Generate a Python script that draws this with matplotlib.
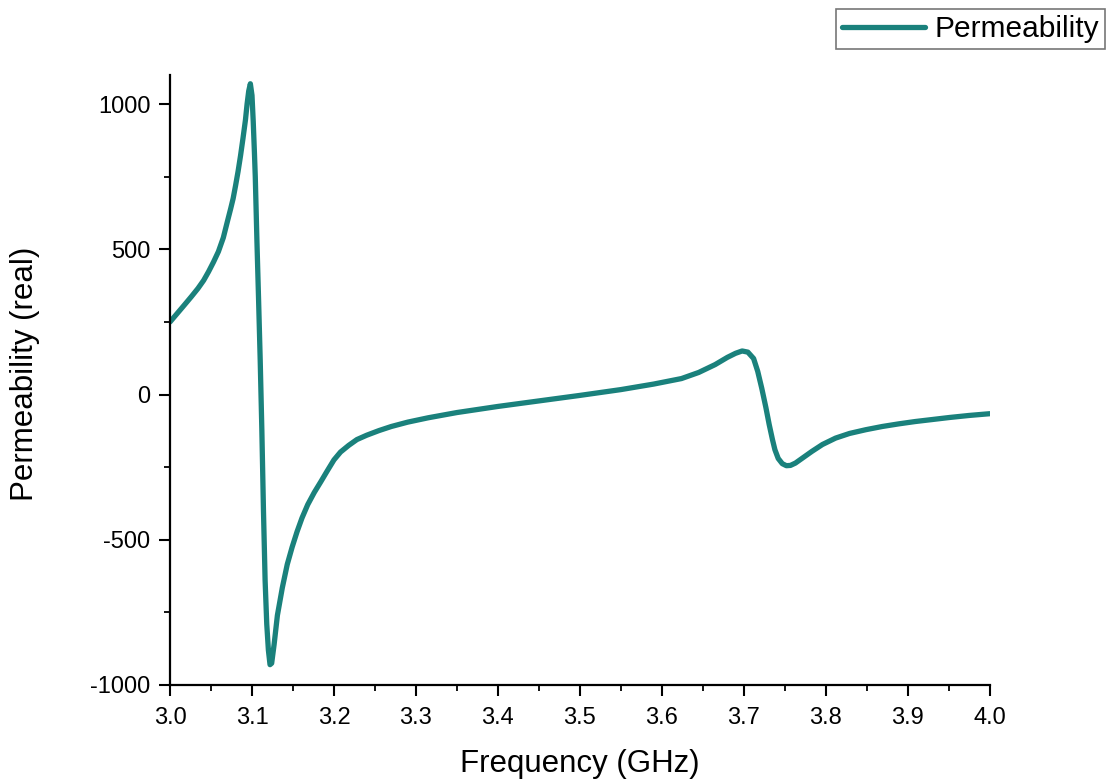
import matplotlib
matplotlib.use("Agg")
import matplotlib.pyplot as plt
from matplotlib.ticker import MultipleLocator

plt.rcParams['font.family'] = ['Liberation Sans', 'DejaVu Sans']
plt.rcParams['axes.unicode_minus'] = False

# frequency (GHz) and real part of permeability
freq = [3.000, 3.009, 3.018, 3.026, 3.034, 3.041, 3.047, 3.053, 3.059, 3.065,
        3.070, 3.074, 3.077, 3.080, 3.083, 3.086, 3.089, 3.092, 3.094, 3.096,
        3.098, 3.100, 3.1015, 3.103, 3.104, 3.106, 3.108, 3.110, 3.112, 3.114,
        3.116, 3.118, 3.120, 3.122, 3.124, 3.127, 3.131, 3.137, 3.143, 3.149,
        3.155, 3.161, 3.168, 3.176, 3.184, 3.192, 3.200, 3.208, 3.218, 3.228,
        3.240, 3.255, 3.270, 3.290, 3.315, 3.350, 3.400, 3.450, 3.500, 3.550,
        3.590, 3.624, 3.645, 3.665, 3.680, 3.690, 3.698, 3.705, 3.712, 3.717,
        3.722, 3.727, 3.731, 3.735, 3.738, 3.742, 3.747, 3.752, 3.757, 3.763,
        3.771, 3.783, 3.796, 3.812, 3.829, 3.849, 3.869, 3.889, 3.909, 3.930,
        3.951, 3.975, 4.000]
perm = [250, 280, 310, 337, 365, 393, 423, 456, 492, 540,
        596, 640, 675, 720, 768, 822, 882, 945, 1000, 1045,
        1070, 1030, 940, 830, 750, 530, 330, 120, -120, -400,
        -640, -790, -880, -930, -925, -860, -760, -665, -585, -525,
        -472, -425, -379, -337, -300, -262, -225, -198, -175, -155,
        -140, -124, -110, -95, -80, -62, -41, -22, -3, 17,
        36, 55, 76, 103, 128, 142, 150, 146, 124, 80,
        21, -45, -103, -155, -190, -220, -238, -245, -244, -236,
        -220, -196, -172, -150, -134, -121, -110, -101, -93, -86,
        -79, -72, -66]

fig = plt.figure(figsize=(11.07, 7.8), dpi=100)
ax = fig.add_axes([0.1536, 0.1218, 0.7404, 0.782])

ax.plot(freq, perm, color='#1a817c', linewidth=3.8, label='Permeability',
        solid_capstyle='round', solid_joinstyle='round')

ax.set_xlim(3.0, 4.0)
ax.set_ylim(-1000, 1100)
ax.xaxis.set_major_locator(MultipleLocator(0.1))
ax.xaxis.set_minor_locator(MultipleLocator(0.05))
ax.yaxis.set_major_locator(MultipleLocator(500))
ax.yaxis.set_minor_locator(MultipleLocator(250))
ax.xaxis.set_major_formatter(plt.FormatStrFormatter('%.1f'))

for s in ['top', 'right']:
    ax.spines[s].set_visible(False)
for s in ['left', 'bottom']:
    ax.spines[s].set_linewidth(1.6)

ax.tick_params(which='major', direction='out', length=8, width=1.5,
               labelsize=17, pad=6)
ax.tick_params(axis='x', which='major', pad=8)
ax.tick_params(which='minor', direction='out', length=4.5, width=1.3)

ax.set_xlabel('Frequency (GHz)', fontsize=22.5)
ax.set_ylabel('Permeability (real)', fontsize=22.5)
ax.xaxis.set_label_coords(0.5, -0.105)
ax.yaxis.set_label_coords(-0.159, 0.51)

leg = fig.legend(loc='upper right', bbox_to_anchor=(0.998, 0.988),
                 fontsize=21.5, fancybox=False, framealpha=1,
                 edgecolor='#777777', handlelength=2.8,
                 borderpad=0.2, handletextpad=0.3, borderaxespad=0)
leg.get_frame().set_linewidth(1.2)

fig.savefig('out.png', dpi=100)
